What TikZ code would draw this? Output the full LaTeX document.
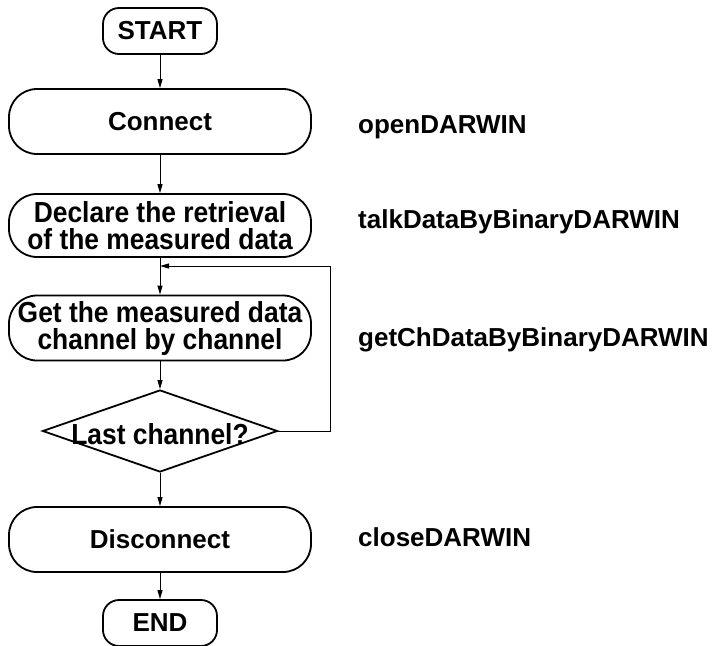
\documentclass[tikz,border=0pt]{standalone}
\usepackage{fontspec}
\setmainfont{Liberation Sans}
\newfontfamily\narrowfont{Liberation Sans}[FakeStretch=0.91]
\usetikzlibrary{shapes.geometric,arrows.meta}

\begin{document}
\begin{tikzpicture}[x=1pt,y=-1pt,
    font=\fontsize{26}{28}\selectfont\bfseries,
    narrow/.style={font=\narrowfont\fontsize{29}{27}\selectfont\bfseries},
    terminal/.style={draw, line width=1.8pt, rounded corners=16pt, minimum width=114pt, minimum height=46pt, inner sep=0pt},
    process/.style={draw, line width=1.8pt, rounded corners=28pt, minimum width=302pt, minimum height=65pt, inner sep=0pt, align=center},
    decision/.style={draw, diamond, line width=1.8pt, minimum width=235pt, minimum height=82pt, inner sep=0pt},
    call/.style={anchor=west, inner sep=0pt},
    flow/.style={line width=1pt, -{Triangle[length=9pt,width=5pt]}}]
    \useasboundingbox (0,0) rectangle (717,645);

    % Flow chart
    \node[terminal] (start) at (160,31) {START};
    \node[process] (connect) at (160,121.5) {Connect};
    \node[process, narrow, minimum height=63pt] (declare) at (160,225.5) {Declare the retrieval\\of the measured data};
    \node[process, narrow] (getdata) at (160,328) {Get the measured data\\channel by channel};
    \node[decision, label={[narrow, yshift=-3pt]center:Last channel?}] (last) at (160,431) {};
    \node[process] (disconnect) at (160,539.5) {Disconnect};
    \node[terminal] (end) at (160,623) {END};

    % Function names
    \node[call] (openfn) at (358,127) {openDARWIN};
    \node[call] (talkfn) at (358,222) {talkDataByBinaryDARWIN};
    \node[call] (getfn) at (358,340) {getChDataByBinaryDARWIN};
    \node[call] (closefn) at (358,537) {closeDARWIN};

    % Connections
    \coordinate (loopin) at (160,266);
    \coordinate (loopturn) at (330,266);
    \draw[flow] (start) -- (connect);
    \draw[flow] (connect) -- (declare);
    \draw[flow] (declare) -- (getdata);
    \draw[flow] (getdata) -- (last);
    \draw[flow] (last) -- (disconnect);
    \draw[flow] (disconnect) -- (end);
    \draw[flow] (last.east) -| (loopturn) -- (loopin);
\end{tikzpicture}
\end{document}
